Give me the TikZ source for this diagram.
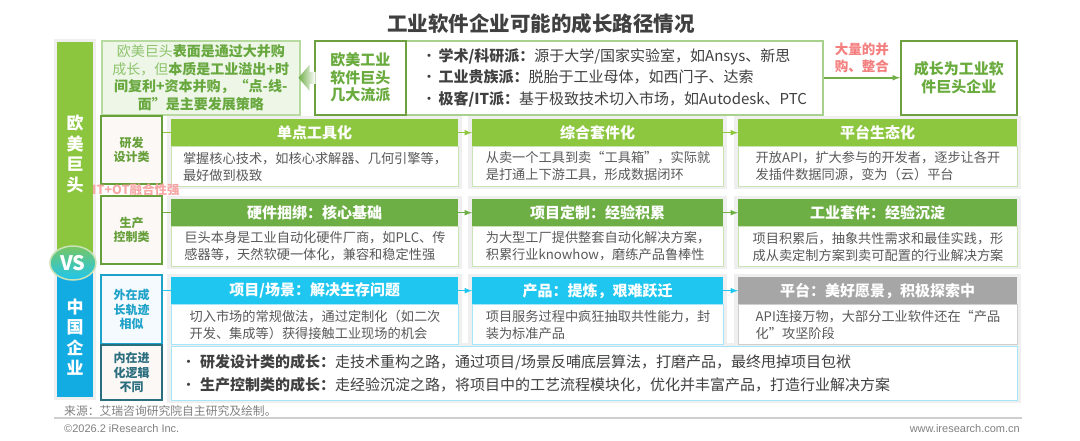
\documentclass[tikz,border=0pt]{standalone}
\usepackage{fontspec}
\setmainfont{Noto Sans CJK SC}
\newfontfamily\latinfont{Liberation Sans}
\usetikzlibrary{positioning,calc,arrows,shapes.geometric}

\definecolor{barGreen}{HTML}{8CC63F}
\definecolor{barBlue}{HTML}{12ABE2}
\definecolor{headGreenA}{HTML}{8DC63F}
\definecolor{headGreenB}{HTML}{6DAE45}
\definecolor{headCyan}{HTML}{1EC6F0}
\definecolor{headGray}{HTML}{A6A6A6}
\definecolor{lineGreen}{HTML}{C9E3B5}
\definecolor{lineCyan}{HTML}{A6E6F8}
\definecolor{lineGray}{HTML}{CFCFCF}
\definecolor{labGreen}{HTML}{67A03B}
\definecolor{labCyan}{HTML}{1EA2C9}
\definecolor{labTeal}{HTML}{2B6E7E}
\definecolor{labFill}{HTML}{FCF8F6}
\definecolor{labFillCyan}{HTML}{F4FAFD}
\definecolor{textGray}{HTML}{595959}
\definecolor{darkText}{HTML}{404040}
\definecolor{mergeRed}{HTML}{F47F7F}
\definecolor{pinkTxt}{HTML}{F7A6A6}
\definecolor{sumFill}{HTML}{EDF6E7}
\definecolor{sumLine}{HTML}{B7DAA0}
\definecolor{sumLight}{HTML}{8DC46C}
\definecolor{sumDark}{HTML}{68A83F}
\definecolor{schoolLine}{HTML}{6FA040}
\definecolor{schoolTxt}{HTML}{6AAB3E}
\definecolor{streamLine}{HTML}{A9D18E}
\definecolor{arrowGreen}{HTML}{70AD47}
\definecolor{shadowGray}{HTML}{EFEFEF}
\definecolor{footGray}{HTML}{808080}

\tikzset{stagehead/.style={anchor=north west,minimum height=27,inner sep=0pt,text=white,font=\fontsize{15}{18}\selectfont\bfseries}}
\tikzset{bodybox/.style={anchor=north west,minimum height=40,inner sep=0pt,fill=white,draw=#1,line width=1pt,align=left,text=textGray,font=\fontsize{13.2}{17}\selectfont}}
\tikzset{rowlabel/.style={draw=#1,text=#1,fill=labFill,line width=1.5pt,minimum width=61,align=center,inner sep=0pt,font=\fontsize{12}{14.5}\selectfont\bfseries}}
\tikzset{topbox/.style={anchor=north west,minimum height=74,inner sep=0pt,line width=1.5pt,align=center}}
\tikzset{sidetext/.style={text=white,align=center,font=\fontsize{17}{20.5}\selectfont\bfseries}}
\tikzset{labline/.style={draw=#1,line width=1.2pt}}
\tikzset{steparrow/.style={-latex,draw=#1,line width=1.5pt}}
\newcommand{\bul}{\makebox[17pt][l]{\textbullet}}

\begin{document}
\begin{tikzpicture}[x=1pt,y=-1pt]
  \useasboundingbox (0,0) rectangle (1080,440);

  \node[font=\fontsize{20.5}{24}\selectfont\bfseries,text=darkText] (title) at (541,24) {工业软件企业可能的成长路径情况};

  % left bar
  \fill[shadowGray] (54,39) rectangle (96,400);
  \fill[barGreen] (57,42) rectangle (93,263);
  \fill[barBlue] (57,263) rectangle (93,397);
  \node[sidetext] (west) at (75,154) {欧\\美\\巨\\头};
  \node[sidetext] (china) at (75,337) {中\\国\\企\\业};
  \node[ellipse,minimum width=46,minimum height=34,top color=headGreenA!80!headCyan,bottom color=headCyan,draw=lineGreen,line width=1.5pt,text=white,font=\fontsize{20}{24}\selectfont\bfseries,inner sep=0pt] (vs) at (73,263) {VS};

  % top row
  \node[topbox,fill=sumFill,draw=sumLine,minimum width=198,text=sumDark,font=\fontsize{14}{17.5}\selectfont] (summary) at (101,40)
    {{\color{sumLight}欧美巨头}\textbf{表面是通过大并购}\\
     {\color{sumLight}成长，但}\textbf{本质是工业溢出+时}\\
     \textbf{间复利+资本并购，“点-线-}\\
     \textbf{面”是主要发展策略}};
  \node[topbox,draw=streamLine,fill=white,minimum width=417,align=left,text=darkText,font=\fontsize{15}{21.5}\selectfont] (streams) at (405,40)
    {\bul\textbf{学术/科研派：}源于大学/国家实验室，如Ansys、新思\\
     \bul\textbf{工业贵族派：}脱胎于工业母体，如西门子、达索\\
     \bul\textbf{极客/IT派：}基于极致技术切入市场，如Autodesk、PTC};
  \node[topbox,draw=schoolLine,fill=white,minimum width=91,text=schoolTxt,font=\fontsize{15}{17.5}\selectfont\bfseries] (school) at (314,40) {欧美工业\\软件巨头\\几大流派};
  \node[topbox,draw=schoolLine,fill=white,minimum width=116,text=schoolTxt,font=\fontsize{15}{18}\selectfont\bfseries] (giant) at (900,40) {成长为工业软\\件巨头企业};
  \shade[left color=arrowGreen,right color=white,shift={(summary.east)}] (-2,0) -- (9,-13) -- (9,-6) -- (15,-6) -- (15,6) -- (9,6) -- (9,13) -- cycle;
  \draw[-latex,arrowGreen,line width=1.5pt] (streams.east) -- (giant.west)
    node[midway,above=4pt,inner sep=0pt,align=center,text=mergeRed,font=\fontsize{13.5}{17}\selectfont\bfseries] (merge) {大量的并\\购、整合};

  % grey frames behind the stages
  \foreach \y in {116,196,274}
    \foreach \xa/\xb in {167/462,468/727,734/1021}
      \fill[shadowGray] (\xa,\y) rectangle (\xb,\y+73);
  \fill[shadowGray] (167,343) rectangle (1021,403);

  % row 1
  \node[rowlabel=labGreen,minimum height=68] (lab1) at (131.5,150) {研发\\设计类};
  \node[stagehead,fill=headGreenA,minimum width=287] (h11) at (171,119) {单点工具化};
  \node[stagehead,fill=headGreenA,minimum width=251] (h12) at (472,119) {综合套件化};
  \node[stagehead,fill=headGreenA,minimum width=279] (h13) at (738,119) {平台生态化};
  \node[bodybox=lineGreen,minimum width=287] (b11) at (171,146) {掌握核心技术，如核心求解器、几何引擎等，\\最好做到极致};
  \node[bodybox=lineGreen,minimum width=251] (b12) at (472,146) {从卖一个工具到卖“工具箱”，实际就\\是打通上下游工具，形成数据闭环};
  \node[bodybox=lineGreen,minimum width=279] (b13) at (738,146) {开放API，扩大参与的开发者，逐步让各开\\发插件数据同源，变为（云）平台};
  \draw[labline=headGreenA] (lab1.east |- h11.west) -- (h11.west);
  \draw[steparrow=headGreenA] (h11.east) -- (h12.west);
  \draw[steparrow=headGreenA] (h12.east) -- (h13.west);

  % row 2
  \node[rowlabel=labGreen,minimum height=68] (lab2) at (131.5,230) {生产\\控制类};
  \node[stagehead,fill=headGreenB,minimum width=287] (h21) at (171,199) {硬件捆绑：核心基础};
  \node[stagehead,fill=headGreenB,minimum width=251] (h22) at (472,199) {项目定制：经验积累};
  \node[stagehead,fill=headGreenB,minimum width=279] (h23) at (738,199) {工业套件：经验沉淀};
  \node[bodybox=lineGreen,minimum width=287] (b21) at (171,226) {巨头本身是工业自动化硬件厂商，如PLC、传\\感器等，天然软硬一体化，兼容和稳定性强};
  \node[bodybox=lineGreen,minimum width=251] (b22) at (472,226) {为大型工厂提供整套自动化解决方案，\\积累行业knowhow，磨练产品鲁棒性};
  \node[bodybox=lineGreen,minimum width=279] (b23) at (738,226) {项目积累后，抽象共性需求和最佳实践，形\\成从卖定制方案到卖可配置的行业解决方案};
  \draw[labline=headGreenB] (lab2.east |- h21.west) -- (h21.west);
  \draw[steparrow=headGreenB] (h21.east) -- (h22.west);
  \draw[steparrow=headGreenB] (h22.east) -- (h23.west);

  \node[anchor=west,inner sep=0pt,text=pinkTxt,font=\fontsize{12.5}{15}\selectfont\bfseries] (itot) at (92,190) {IT+OT融合性强};

  % row 3
  \node[rowlabel=labCyan,fill=labFillCyan,minimum height=69] (lab3) at (131.5,309.5) {外在成\\长轨迹\\相似};
  \node[stagehead,fill=headCyan,minimum width=287] (h31) at (171,277) {项目/场景：解决生存问题};
  \node[stagehead,fill=headCyan,minimum width=251] (h32) at (472,277) {产品：提炼，艰难跃迁};
  \node[stagehead,fill=headGray,minimum width=279] (h33) at (738,277) {平台：美好愿景，积极探索中};
  \node[bodybox=lineCyan,minimum width=287] (b31) at (171,304) {切入市场的常规做法，通过定制化（如二次\\开发、集成等）获得接触工业现场的机会};
  \node[bodybox=lineCyan,minimum width=251] (b32) at (472,304) {项目服务过程中疯狂抽取共性能力，封\\装为标准产品};
  \node[bodybox=lineGray,minimum width=279] (b33) at (738,304) {API连接万物，大部分工业软件还在“产品\\化”攻坚阶段};
  \draw[labline=headCyan] (lab3.east |- h31.west) -- (h31.west);
  \draw[steparrow=headCyan] (h31.east) -- (h32.west);
  \draw[steparrow=headCyan] (h32.east) -- (h33.west);

  % row 4
  \node[rowlabel=labTeal,minimum height=55] (lab4) at (131.5,372.5) {内在进\\化逻辑\\不同};
  \node[anchor=north west,draw=lineCyan,fill=white,line width=1pt,minimum width=846,minimum height=54,inner sep=0pt] (inner) at (171,346) {};
  \node[anchor=west,align=left,inner sep=0pt,text=darkText,font=\fontsize{15}{23}\selectfont] (innertxt) at ([xshift=10pt]inner.west)
    {\makebox[19pt][l]{\textbullet}\textbf{研发设计类的成长：}走技术重构之路，通过项目/场景反哺底层算法，打磨产品，最终甩掉项目包袱\\
     \makebox[19pt][l]{\textbullet}\textbf{生产控制类的成长：}走经验沉淀之路，将项目中的工艺流程模块化，优化并丰富产品，打造行业解决方案};

  % footer
  \node[anchor=west,inner sep=0pt,text=footGray,font=\fontsize{11.8}{14}\selectfont] (source) at (64,411) {来源：艾瑞咨询研究院自主研究及绘制。};
  \draw[lineGray,line width=1.2pt] (54,418) -- (1022,418);
  \node[anchor=west,inner sep=0pt,text=footGray,font=\latinfont\fontsize{11}{13}\selectfont] (copy) at (64,429) {©2026.2 iResearch Inc.};
  \node[anchor=east,inner sep=0pt,text=footGray,font=\latinfont\fontsize{11}{13}\selectfont] (web) at (1020,429) {www.iresearch.com.cn};
\end{tikzpicture}
\end{document}
